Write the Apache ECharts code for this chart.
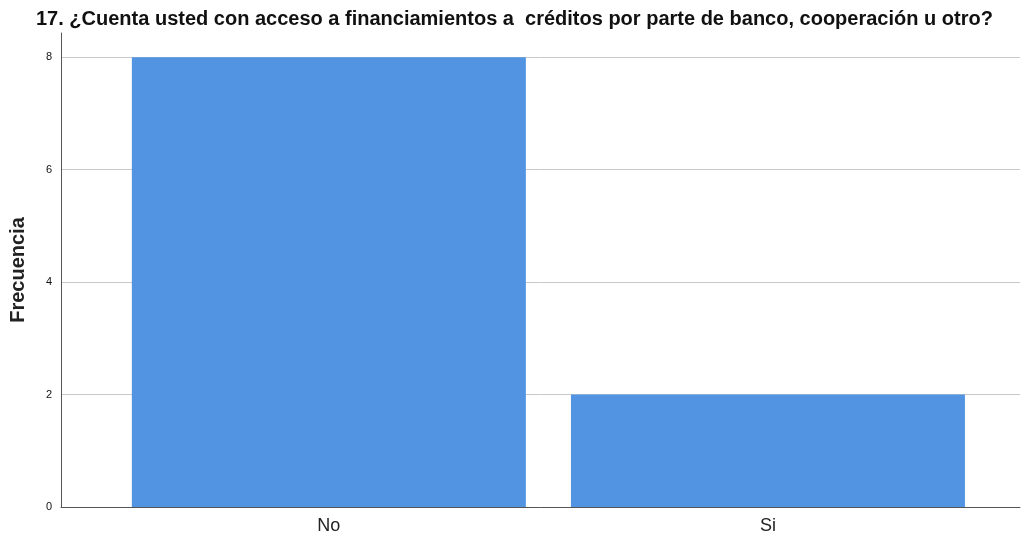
<!DOCTYPE html>
<html>
<head>
<meta charset="utf-8">
<script src="https://cdn.jsdelivr.net/npm/echarts@6/dist/echarts.min.js"></script>
<style>
  html, body { margin: 0; padding: 0; background: #fff; }
  #chart { width: 1025px; height: 540px; }
</style>
</head>
<body>
<div id="chart"></div>
<script>
const titleText = "17. ¿Cuenta usted con acceso a financiamientos a  créditos por parte de banco, cooperación u otro?";
const categories = ["No", "Si"];
const frecuencia = [8, 2];
const yTicks = [0, 2, 4, 6, 8];

// bars sit on a value axis (0, 1) so the padding left/right matches the original
const chart = echarts.init(document.getElementById("chart"));
chart.setOption({
  animation: false,
  title: {
    text: titleText,
    left: 31,
    top: 4,
    textStyle: { fontFamily: "Liberation Sans", fontSize: 20, fontWeight: "bold", color: "#111" }
  },
  grid: { left: 61, right: 5, top: 33, bottom: 33 },
  xAxis: {
    type: "value",
    min: -0.61,
    max: 1.574,
    axisLine: { show: true, onZero: false, lineStyle: { color: "#555", width: 1 } },
    axisTick: { show: false },
    splitLine: { show: false },
    axisLabel: {
      customValues: categories.map((c, i) => i),
      margin: 10,
      fontFamily: "Liberation Sans",
      fontSize: 18,
      color: "#222",
      formatter: v => categories[Math.round(v)] || ""
    }
  },
  yAxis: {
    type: "value",
    min: 0,
    max: 8.43,
    interval: 2,
    name: "Frecuencia",
    nameLocation: "middle",
    nameGap: 33,
    nameTextStyle: { fontFamily: "Liberation Sans", fontSize: 20, fontWeight: "bold", color: "#222" },
    axisLine: { show: true, onZero: false, lineStyle: { color: "#555", width: 1 } },
    axisTick: { show: false },
    splitLine: { show: true, showMaxLine: false, lineStyle: { color: "#c8c8c8", width: 1 } },
    axisLabel: {
      margin: 9,
      fontFamily: "Liberation Sans",
      fontSize: 11,
      color: "#111",
      formatter: v => yTicks.includes(v) ? String(v) : ""
    }
  },
  series: [{
    type: "bar",
    barWidth: 394,
    itemStyle: { color: "#5294e2" },
    data: frecuencia.map((f, i) => [i, f])
  }]
});
</script>
</body>
</html>
